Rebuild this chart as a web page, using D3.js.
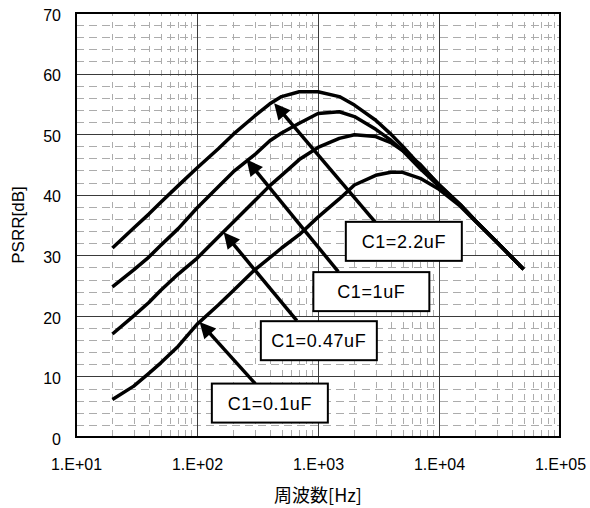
<!DOCTYPE html>
<html>
<head>
<meta charset="utf-8">
<title>PSRR vs frequency</title>
<script src="https://d3js.org/d3.v7.min.js"></script>
<style>
  body { margin: 0; background: #fff; }
  text { font-family: "Liberation Sans", Arial, sans-serif; fill: #000; }
</style>
</head>
<body>
<div id="chart"></div>
<script>
// frequency points (Hz) shared by every curve
var freqs = [20, 30, 40, 50, 70, 100, 150, 200, 300, 400, 500, 700, 1000, 1500,
             2000, 3000, 4000, 5000, 7000, 10000, 15000, 20000, 30000, 50000];

// PSRR [dB], one array per C1 value
var psrr_22uF  = [31.2, 34.5, 36.8, 38.7, 41.5, 44.4, 47.6, 50.0, 53.0, 55.0, 56.2, 57.0, 57.0, 56.2,
                  54.8, 52.3, 50.0, 48.0, 44.8, 41.7, 38.4, 35.7, 32.2, 27.7];
var psrr_1uF   = [24.8, 27.6, 29.7, 31.6, 34.4, 37.8, 41.3, 43.8, 46.6, 48.9, 50.2, 51.8, 53.4, 53.7,
                  52.9, 50.8, 49.0, 47.3, 44.3, 41.4, 38.3, 35.7, 32.2, 27.7];
var psrr_047uF = [17.0, 20.0, 22.2, 24.2, 26.9, 29.5, 33.0, 35.5, 39.0, 41.5, 43.2, 45.8, 47.8, 49.3,
                  49.9, 49.6, 48.6, 47.3, 45.0, 41.6, 38.3, 35.7, 32.2, 27.7];
var psrr_01uF  = [6.2, 8.4, 10.5, 12.2, 15.0, 18.6, 21.8, 24.2, 27.6, 29.6, 31.2, 33.4, 36.3, 39.3,
                  41.6, 43.2, 43.7, 43.7, 42.7, 40.9, 38.1, 35.6, 32.2, 27.7];

var seriesNames = ["C1=2.2uF", "C1=1uF", "C1=0.47uF", "C1=0.1uF"];
var seriesData = [psrr_22uF, psrr_1uF, psrr_047uF, psrr_01uF];

// callouts: arrow tip, arrow tail and box centre, in [Hz, dB]
var calloutTip  = [[434, 55.1], [257, 45.8], [166, 33.8], [105, 19.0]];
var calloutTail = [[2960, 35.5], [1470, 27.3], [668, 19.2], [303, 8.8]];
var calloutBox  = [[5120, 32.3], [2760, 24.0], [1016, 15.9], [400, 5.6]];

// axis ticks
var xTicks = [10, 100, 1000, 10000, 100000];
var xTickLabels = ["1.E+01", "1.E+02", "1.E+03", "1.E+04", "1.E+05"];
var yTicks = [0, 10, 20, 30, 40, 50, 60, 70];

var W = 590, H = 508;
var margin = {top: 13, right: 30, bottom: 71, left: 76};

var svg = d3.select("#chart").append("svg")
    .attr("width", W).attr("height", H);

var x = d3.scaleLog().domain([10, 100000]).range([margin.left, W - margin.right]);
var y = d3.scaleLinear().domain([0, 70]).range([H - margin.bottom, margin.top]);

// minor grid
var minorX = [];
xTicks.slice(0, 4).forEach(function(d) {
  for (var k = 2; k <= 9; k++) minorX.push(d * k);
});
var minorY = d3.range(2, 70, 2).filter(function(d) { return d % 10 != 0; });

var grid = svg.append("g");
grid.selectAll(".mx").data(minorX).enter().append("line")
    .attr("x1", function(d) { return Math.round(x(d)) + 0.5; })
    .attr("x2", function(d) { return Math.round(x(d)) + 0.5; })
    .attr("y1", y(70)).attr("y2", y(0))
    .attr("stroke", "#acacac").attr("stroke-dasharray", "6,6")
    .attr("stroke-dashoffset", 3);
grid.selectAll(".my").data(minorY).enter().append("line")
    .attr("x1", x(10)).attr("x2", x(100000))
    .attr("y1", function(d) { return Math.round(y(d)) + 0.5; })
    .attr("y2", function(d) { return Math.round(y(d)) + 0.5; })
    .attr("stroke", "#acacac").attr("stroke-dasharray", "8,5");

// major grid
grid.selectAll(".Mx").data(xTicks.slice(1, 4)).enter().append("line")
    .attr("x1", function(d) { return Math.round(x(d)) + 0.5; })
    .attr("x2", function(d) { return Math.round(x(d)) + 0.5; })
    .attr("y1", y(70)).attr("y2", y(0))
    .attr("stroke", "#3a3a3a");
grid.selectAll(".My").data(yTicks.slice(1, 7)).enter().append("line")
    .attr("x1", x(10)).attr("x2", x(100000))
    .attr("y1", function(d) { return Math.round(y(d)) + 0.5; })
    .attr("y2", function(d) { return Math.round(y(d)) + 0.5; })
    .attr("stroke", "#3a3a3a");

// plot frame
svg.append("rect")
    .attr("x", x(10)).attr("y", y(70))
    .attr("width", x(100000) - x(10)).attr("height", y(0) - y(70))
    .attr("fill", "none").attr("stroke", "#000").attr("stroke-width", 2);

// axes (labels only)
var yAxis = svg.append("g")
    .attr("transform", "translate(" + margin.left + ",0)")
    .call(d3.axisLeft(y).tickValues(yTicks).tickSize(0).tickPadding(15));
var xAxis = svg.append("g")
    .attr("transform", "translate(0," + (H - margin.bottom) + ")")
    .call(d3.axisBottom(x).tickValues(xTicks).tickSize(0).tickPadding(22)
      .tickFormat(function(d, i) { return xTickLabels[i]; }));
[yAxis, xAxis].forEach(function(a) {
  a.select(".domain").remove();
  a.selectAll("text").style("font-family", "'Liberation Sans', Arial, sans-serif")
    .style("font-size", "16px").attr("fill", "#000");
});
yAxis.selectAll("text").attr("dy", "0.45em");

// axis titles
svg.append("text")
    .attr("transform", "translate(24," + ((y(0) + y(70)) / 2) + ") rotate(-90)")
    .attr("text-anchor", "middle")
    .style("font-size", "17px")
    .text("PSRR[dB]");
svg.append("text")
    .attr("x", (x(10) + x(100000)) / 2).attr("y", 502)
    .attr("text-anchor", "middle")
    .style("font-family", "'Noto Sans CJK JP', sans-serif")
    .style("font-size", "18px")
    .text("周波数[Hz]");

// curves
var line = d3.line()
    .x(function(d, i) { return x(freqs[i]); })
    .y(function(d) { return y(d); });

svg.append("g").selectAll("path").data(seriesData).enter().append("path")
    .attr("d", line)
    .attr("fill", "none").attr("stroke", "#000")
    .attr("stroke-width", 3.5).attr("stroke-linejoin", "round");

// callouts: arrow + box
var headLen = 16, headW = 8;
var callouts = svg.append("g");
seriesNames.forEach(function(name, i) {
  var tx = x(calloutTip[i][0]), ty = y(calloutTip[i][1]);
  var sx = x(calloutTail[i][0]), sy = y(calloutTail[i][1]);
  var ang = Math.atan2(ty - sy, tx - sx);
  var bx = tx - headLen * Math.cos(ang), by = ty - headLen * Math.sin(ang);
  callouts.append("line")
      .attr("x1", sx).attr("y1", sy).attr("x2", bx + 2 * Math.cos(ang)).attr("y2", by + 2 * Math.sin(ang))
      .attr("stroke", "#000").attr("stroke-width", 3.5);
  var px = -Math.sin(ang) * headW, py = Math.cos(ang) * headW;
  callouts.append("path")
      .attr("d", "M" + tx + "," + ty + "L" + (bx + px) + "," + (by + py) + "L" + (bx - px) + "," + (by - py) + "Z")
      .attr("fill", "#000");

  var cx = x(calloutBox[i][0]), cy = y(calloutBox[i][1]);
  callouts.append("rect")
      .attr("x", cx - 58).attr("y", cy - 19.5)
      .attr("width", 116).attr("height", 39)
      .attr("fill", "#fff").attr("stroke", "#000").attr("stroke-width", 2);
  callouts.append("text")
      .attr("x", cx).attr("y", cy)
      .attr("dy", "0.36em")
      .attr("text-anchor", "middle")
      .style("font-size", "18px")
      .style("letter-spacing", "0.6px")
      .text(name);
});
</script>
</body>
</html>
